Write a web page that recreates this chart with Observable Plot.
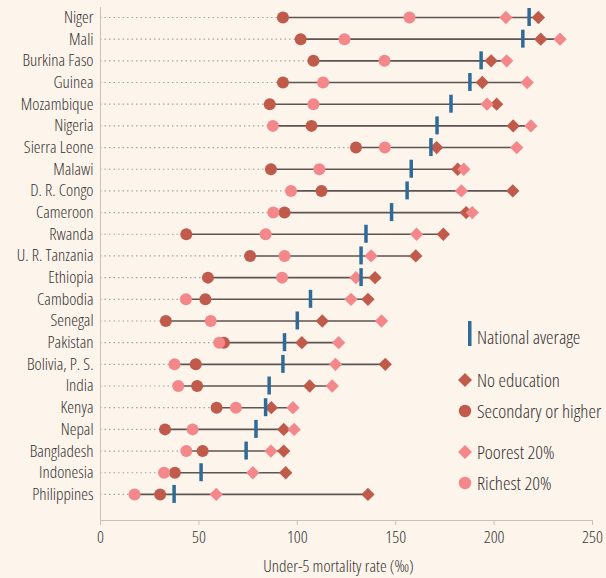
<!DOCTYPE html>
<html>
<head>
<meta charset="utf-8">
<script src="https://cdn.jsdelivr.net/npm/d3@7"></script>
<script src="https://cdn.jsdelivr.net/npm/@observablehq/plot@0.6"></script>
<style>
  html, body { margin: 0; padding: 0; background: #fdf4eb; }
  #wrap { position: relative; width: 606px; height: 578px; }
  .f { font-family: "Open Sans", sans-serif; font-stretch: 85%; font-weight: 360; }
  #legend { position: absolute; left: 458px; top: 322px; color: #333; font-size: 19px; font-stretch: 85%; }
  #legend .it { position: absolute; left: 0; white-space: nowrap; height: 20px; line-height: 20px; }
  #legend svg { position: absolute; left: 0; top: 0; }
  #legend span { position: absolute; left: 19px; top: 0; }
</style>
</head>
<body>
<div id="wrap" class="f"></div>
<script>
const countries = ["Niger","Mali","Burkina Faso","Guinea","Mozambique","Nigeria","Sierra Leone","Malawi","D. R. Congo","Cameroon","Rwanda","U. R. Tanzania","Ethiopia","Cambodia","Senegal","Pakistan","Bolivia, P. S.","India","Kenya","Nepal","Bangladesh","Indonesia","Philippines"];
const noEducation = [222.5,223.7,198.5,194,201.3,209.7,170.8,181.5,209.5,185.8,174.2,160.2,139.5,135.9,112.7,102.3,144.7,106.3,86.8,93.1,93.1,94.1,135.9];
const secondaryOrHigher = [92.7,101.7,108.2,92.7,86,107.2,129.8,86.6,112.3,93.5,43.6,76,54.6,53.3,33.2,62.7,48.4,49.1,59,32.8,51.9,37.8,30.3];
const poorest20 = [206,233.5,206.4,216.8,196.4,218.7,211.5,184.6,183.4,188.9,160.6,137.5,129.8,127.3,142.8,121,119.4,117.7,97.8,98.4,86.6,77.4,58.8];
const richest20 = [157,124,144.3,113.1,108.2,87.6,144.5,111.2,96.8,87.8,83.9,93.5,92.3,43.4,56,60.3,37.6,39.5,68.8,46.8,43.6,32.3,17.3];
const nationalAverage = [217.8,214.6,193.4,187.7,178.1,171,167.9,157.9,155.8,147.9,134.9,132.4,132.4,106.7,100,93.5,92.7,85.7,83.9,79,74,51.1,37.4];
const xTicks = [0,50,100,150,200,250];
const xTitle = "Under-5 mortality rate (‰)";

const C_DARK = "#c05a4a", C_PINK = "#f4878a", C_BLUE = "#2f6b98";

const data = countries.map((c, i) => {
  const vals = [noEducation[i], secondaryOrHigher[i], poorest20[i], richest20[i], nationalAverage[i]];
  return {country: c, noEdu: noEducation[i], sec: secondaryOrHigher[i], poor: poorest20[i], rich: richest20[i], nat: nationalAverage[i], lo: Math.min(...vals), hi: Math.max(...vals)};
});

const chart = Plot.plot({
  width: 606,
  height: 578,
  marginLeft: 100,
  marginRight: 14,
  marginTop: 7,
  marginBottom: 58,
  insetTop: -2.7,
  insetBottom: 13.4,
  style: {background: "#fdf4eb", color: "#333", fontSize: "17px", fontFamily: "\"Open Sans\", sans-serif", fontStretch: "85%", fontWeight: "360"},
  x: {domain: [0, 250]},
  y: {type: "band", domain: countries, padding: 0.17, round: false},
  marks: [
    Plot.ruleY(data, {y: "country", x1: 0, x2: "lo", stroke: "#a9a29c", strokeWidth: 1.2, strokeDasharray: "1.5,3"}),
    Plot.ruleY(data, {y: "country", x1: "lo", x2: "hi", stroke: "#5c5552", strokeWidth: 1.6}),
    Plot.dot(data, {x: "noEdu", y: "country", symbol: "diamond2", fill: C_DARK, r: 6}),
    Plot.dot(data, {x: "sec", y: "country", symbol: "circle", fill: C_DARK, r: 6}),
    Plot.dot(data, {x: "poor", y: "country", symbol: "diamond2", fill: C_PINK, r: 6}),
    Plot.dot(data, {x: "rich", y: "country", symbol: "circle", fill: C_PINK, r: 6}),
    Plot.tickX(data, {x: "nat", y: "country", stroke: C_BLUE, strokeWidth: 3.5}),
    Plot.frame({anchor: "left", stroke: "#c9c1ba"}),
    Plot.frame({anchor: "bottom", stroke: "#c9c1ba"}),
    Plot.axisY({tickSize: 0, tickPadding: 7, label: null, fill: "#333"}),
    Plot.axisX({ticks: xTicks, tickSize: 5, tickPadding: 5, stroke: "#c9c1ba", fill: "#333", label: null}),
    Plot.text([xTitle], {frameAnchor: "bottom", dy: 51, dx: -8, fill: "#333", text: d => d})
  ]
});

const wrap = document.getElementById("wrap");
wrap.appendChild(chart);

const legendItems = [
  {label: "National average", kind: "bar", color: C_BLUE, top: 5},
  {label: "No education", kind: "diamond", color: C_DARK, top: 48},
  {label: "Secondary or higher", kind: "circle", color: C_DARK, top: 79},
  {label: "Poorest 20%", kind: "diamond", color: C_PINK, top: 120},
  {label: "Richest 20%", kind: "circle", color: C_PINK, top: 151}
];
const lg = document.createElement("div");
lg.id = "legend";
for (const it of legendItems) {
  const d = document.createElement("div");
  d.className = "it";
  d.style.top = it.top + "px";
  let sym;
  if (it.kind === "bar") sym = `<svg width="16" height="26" style="top:-7px"><rect x="10" y="1" width="3.5" height="25" fill="${it.color}"/></svg>`;
  else if (it.kind === "diamond") sym = `<svg width="16" height="20"><path d="M7,3 L14,10 L7,17 L0,10 Z" fill="${it.color}"/></svg>`;
  else sym = `<svg width="16" height="20"><circle cx="7" cy="10" r="6.2" fill="${it.color}"/></svg>`;
  d.innerHTML = sym + `<span>${it.label}</span>`;
  lg.appendChild(d);
}
wrap.appendChild(lg);
</script>
</body>
</html>
